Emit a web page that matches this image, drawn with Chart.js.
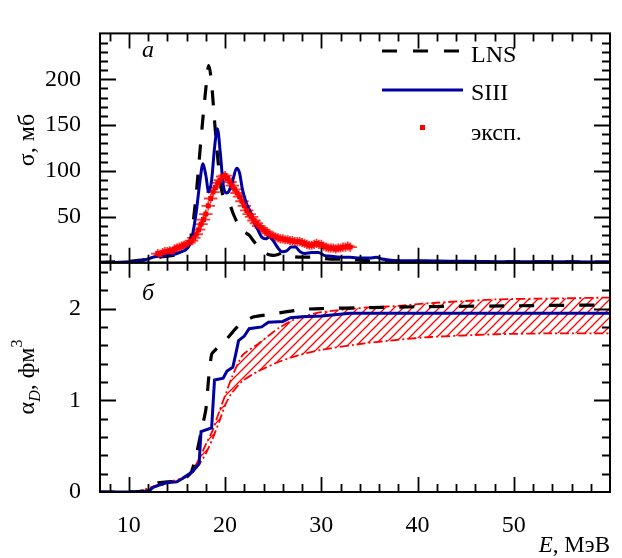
<!DOCTYPE html>
<html>
<head>
<meta charset="utf-8">
<script src="https://cdn.jsdelivr.net/npm/chart.js@4"></script>
<style>
  body { margin: 0; background: #fff; }
  #wrap { width: 622px; height: 558px; }
</style>
</head>
<body>
<div id="wrap"><canvas id="chart" width="622" height="558"></canvas></div>
<script>
// ---- data: panel (а), cross section, mb ----
const lnsE = [7, 9, 10, 11, 12, 12.5, 13, 14, 15, 15.5, 16, 16.5, 17, 17.5, 18, 18.3, 18.6, 18.9, 19.2, 19.5, 19.8, 20.1, 20.5, 20.9, 21.3, 21.7, 22.1, 22.5, 23, 23.5, 24, 24.5, 25, 25.5, 26, 26.5, 27, 28, 29, 30, 31, 32, 33, 34, 35, 37, 40, 45, 50, 60];
const lnsSigma = [0.5, 1, 1.5, 2.5, 4, 5, 6, 7, 9, 11, 14, 30, 75, 135, 190, 215, 195, 155, 118, 88, 72, 68, 63, 52, 43, 36, 33, 30, 23, 17, 12, 9, 8, 9, 11, 9, 7, 6, 6, 5, 4, 4, 3, 3, 2, 2, 1.5, 1, 1, 0.5];

const siiiE = [7, 9, 10, 11, 12, 12.5, 13, 13.5, 14, 15, 15.5, 16, 16.5, 17, 17.4, 17.7, 18, 18.3, 18.6, 18.9, 19.2, 19.5, 19.8, 20.1, 20.4, 20.8, 21.2, 21.5, 21.8, 22.2, 22.6, 23, 23.4, 23.8, 24.2, 24.6, 25, 25.5, 25.9, 26.4, 26.9, 27.3, 27.8, 28.3, 29, 29.7, 30.3, 31, 32, 33, 34, 35, 35.7, 36.3, 37, 38, 40, 45, 50, 55, 60];
const siiiSigma = [0, 0.5, 1, 2, 4, 6, 7, 7, 8, 10, 12, 15, 25, 55, 90, 108, 95, 77, 90, 125, 146, 120, 85, 76, 78, 90, 103, 98, 80, 65, 56, 45, 36, 28, 26, 28, 24, 16, 12, 13, 17, 17, 12, 10, 11, 11, 8, 7, 6, 6, 5, 5, 6, 4, 3, 2, 2, 1.5, 1, 1, 0.8];

const expE = [13, 13.25, 13.5, 13.75, 14, 14.25, 14.5, 14.75, 15, 15.25, 15.5, 15.75, 16, 16.25, 16.5, 16.75, 17, 17.25, 17.5, 17.75, 18, 18.25, 18.5, 18.75, 19, 19.25, 19.5, 19.75, 20, 20.25, 20.5, 20.75, 21, 21.25, 21.5, 21.75, 22, 22.25, 22.5, 22.75, 23, 23.25, 23.5, 23.75, 24, 24.25, 24.5, 24.75, 25, 25.25, 25.5, 25.75, 26, 26.25, 26.5, 26.75, 27, 27.25, 27.5, 27.75, 28, 28.25, 28.5, 28.75, 29, 29.25, 29.5, 29.75, 30, 30.25, 30.5, 30.75, 31, 31.25, 31.5, 31.75, 32, 32.25, 32.5, 32.75, 33];
const expSigma = [10, 9, 11, 12, 12, 13, 12, 15, 16, 17, 18, 19, 20, 22, 24, 27, 31, 36, 42, 47, 53, 62, 70, 77, 82, 87, 90, 94, 95, 92, 88, 84, 80, 76, 72, 67, 62, 57, 53, 50, 46, 43, 40, 38, 36, 34, 32, 30, 29, 28, 27, 26, 26, 25, 25, 24, 24, 23, 23, 23, 22, 21, 20, 19, 19, 20, 21, 20, 20, 18, 17, 16, 16, 16, 15, 16, 16, 17, 17, 18, 17];
const expErrE = 0.7;
const expErrSigma = 5;

// ---- data: panel (б), polarizability, fm^3 ----
const lnsAE = [7, 10, 11.5, 12, 12.5, 13, 14, 15, 15.5, 16, 16.5, 17, 17.5, 18, 18.3, 18.6, 19, 19.5, 20.2, 21, 21.8, 23, 24.9, 28, 30, 35, 40, 50, 60];
const lnsAlpha = [0, 0, 0.01, 0.03, 0.08, 0.1, 0.11, 0.12, 0.13, 0.16, 0.22, 0.4, 0.65, 0.9, 1.25, 1.5, 1.55, 1.6, 1.67, 1.77, 1.85, 1.91, 1.94, 1.99, 2.0, 2.01, 2.02, 2.03, 2.04];

const siiiAE = [7, 11.5, 12.2, 12.5, 13, 13.9, 15, 15.6, 16.6, 17.3, 17.5, 18.6, 18.9, 19.8, 20.2, 20.8, 21.1, 21.4, 22, 22.5, 23.8, 24.5, 26, 26.8, 28, 30, 33, 40, 60];
const siiiAlpha = [0, 0, 0.02, 0.05, 0.07, 0.1, 0.11, 0.15, 0.22, 0.31, 0.66, 0.7, 1.22, 1.24, 1.32, 1.36, 1.5, 1.65, 1.7, 1.78, 1.8, 1.85, 1.86, 1.9, 1.91, 1.92, 1.95, 1.95, 1.95];

const bandE = [10.5, 11.5, 12.5, 13.5, 14.5, 15.5, 16.5, 17.3, 18, 18.7, 19.4, 20.1, 20.7, 21.8, 23.5, 25.6, 27.6, 30, 34.5, 38, 41.4, 48.2, 54, 60];
const bandUpper = [0, 0.02, 0.06, 0.09, 0.12, 0.15, 0.22, 0.36, 0.52, 0.67, 0.88, 1.08, 1.25, 1.49, 1.62, 1.79, 1.9, 1.96, 2.01, 2.03, 2.06, 2.1, 2.11, 2.12];
const bandLower = [0, 0.02, 0.05, 0.08, 0.11, 0.14, 0.2, 0.3, 0.42, 0.58, 0.77, 0.97, 1.08, 1.21, 1.32, 1.42, 1.49, 1.55, 1.62, 1.66, 1.69, 1.72, 1.73, 1.73];

// ticks
const xTicks = [10, 20, 30, 40, 50];
const sigmaTicks = [50, 100, 150, 200];
const alphaTicks = [0, 1, 2];

const FONT = '"Liberation Serif", "Times New Roman", Times, serif';
const NAVY = '#0000a0';
const RED = '#ff0000';

const toPoints = (xs, ys) => xs.map((x, i) => ({ x: x, y: ys[i] }));

// Hatch pattern for the experimental band
function makeHatch() {
    const c = document.createElement('canvas');
    c.width = 9;
    c.height = 9;
    const g = c.getContext('2d');
    g.strokeStyle = RED;
    g.lineWidth = 1.3;
    g.beginPath();
    g.moveTo(-2, 11); g.lineTo(11, -2);
    g.moveTo(-6, 6); g.lineTo(6, -6);
    g.moveTo(3, 15); g.lineTo(15, 3);
    g.stroke();
    return g.createPattern(c, 'repeat');
}

// Error bars for the experimental points
const errorBars = {
    id: 'errorBars',
    beforeDatasetsDraw(chart) {
        const ctx = chart.ctx;
        const x = chart.scales.x, y = chart.scales.yS;
        ctx.save();
        ctx.strokeStyle = 'rgba(255,20,20,0.85)';
        ctx.lineWidth = 1.8;
        ctx.beginPath();
        expE.forEach((e, i) => {
            const px = x.getPixelForValue(e), py = y.getPixelForValue(expSigma[i]);
            ctx.moveTo(x.getPixelForValue(e - expErrE), py);
            ctx.lineTo(x.getPixelForValue(e + expErrE), py);
            ctx.moveTo(px, y.getPixelForValue(expSigma[i] - expErrSigma));
            ctx.lineTo(px, y.getPixelForValue(expSigma[i] + expErrSigma));
        });
        ctx.stroke();
        ctx.restore();
    }
};

// Frame and inner ticks of one panel
function drawPanel(ctx, x, y, yMax, yStep, yMajorEvery) {
    const l = x.left, r = x.right, t = y.top, b = y.bottom;
    ctx.lineWidth = 1.8;
    ctx.beginPath();
    for (let v = 8; v < 60; v += 2) {
        const len = v % 10 === 0 ? 15 : 8;
        const px = Math.round(x.getPixelForValue(v)) + 0.5;
        ctx.moveTo(px, t); ctx.lineTo(px, t + len);
        ctx.moveTo(px, b); ctx.lineTo(px, b - len);
    }
    const n = Math.round(yMax / yStep);
    for (let i = 1; i < n; i++) {
        const len = i % yMajorEvery === 0 ? 16 : 8;
        const py = Math.round(y.getPixelForValue(i * yStep)) + 0.5;
        ctx.moveTo(l, py); ctx.lineTo(l + len, py);
        ctx.moveTo(r, py); ctx.lineTo(r - len, py);
    }
    ctx.stroke();
    ctx.lineWidth = 2;
    ctx.strokeRect(l, t, r - l, b - t);
}

// Legend, panel letters and axis titles
const decorations = {
    id: 'decorations',
    afterDatasetsDraw(chart) {
        const ctx = chart.ctx;
        const x = chart.scales.x;
        ctx.save();
        ctx.strokeStyle = '#000';
        drawPanel(ctx, x, chart.scales.yS, 250, 10, 5);
        drawPanel(ctx, x, chart.scales.yA, 2.5, 0.2, 5);

        // legend
        ctx.lineWidth = 3.2;
        ctx.setLineDash([15, 16]);
        ctx.beginPath(); ctx.moveTo(382, 51); ctx.lineTo(463, 51); ctx.stroke();
        ctx.setLineDash([]);
        ctx.strokeStyle = NAVY;
        ctx.lineWidth = 3;
        ctx.beginPath(); ctx.moveTo(382, 90); ctx.lineTo(463, 90); ctx.stroke();
        ctx.fillStyle = RED;
        ctx.fillRect(420, 125, 5, 5);

        ctx.fillStyle = '#000';
        ctx.textBaseline = 'alphabetic';
        ctx.textAlign = 'left';
        ctx.font = '24px ' + FONT;
        ctx.fillText('LNS', 471, 62);
        ctx.fillText('SIII', 471, 100);
        ctx.fillText('эксп.', 471, 140);

        // panel labels
        ctx.font = 'italic 24px ' + FONT;
        ctx.fillText('а', 142, 57);
        ctx.fillText('б', 142, 300);

        // x axis title
        ctx.font = '23px ' + FONT;
        const rest = ', МэВ';
        const wRest = ctx.measureText(rest).width;
        ctx.fillText(rest, 610 - wRest, 552);
        ctx.font = 'italic 23px ' + FONT;
        const wE = ctx.measureText('E').width;
        ctx.fillText('E', 610 - wRest - wE, 552);

        // y axis titles (rotated)
        ctx.save();
        ctx.translate(34, 140);
        ctx.rotate(-Math.PI / 2);
        ctx.font = '24px ' + FONT;
        ctx.textAlign = 'center';
        ctx.fillText('σ, мб', 0, 0);
        ctx.restore();

        ctx.save();
        ctx.translate(34, 377);
        ctx.rotate(-Math.PI / 2);
        const parts = [
            { t: 'α', f: '24px', dy: 0 },
            { t: 'D', f: 'italic 16px', dy: 6 },
            { t: ', фм', f: '24px', dy: 0 },
            { t: '3', f: '16px', dy: -12 }
        ];
        let total = 0;
        parts.forEach(p => { ctx.font = p.f + ' ' + FONT; p.w = ctx.measureText(p.t).width; total += p.w; });
        let cx = -total / 2;
        parts.forEach(p => {
            ctx.font = p.f + ' ' + FONT;
            ctx.fillText(p.t, cx, p.dy);
            cx += p.w;
        });
        ctx.restore();
        ctx.restore();
    }
};

const tickFont = { family: FONT, size: 24 };
const noGrid = { display: false, drawTicks: false, tickLength: 0 };

function init() {
    new Chart(document.getElementById('chart').getContext('2d'), {
        type: 'line',
        data: {
            datasets: [
                {
                    label: 'эксп.', type: 'scatter', yAxisID: 'yS',
                    data: toPoints(expE, expSigma),
                    pointStyle: 'rect', pointRadius: 3.5, backgroundColor: RED, borderColor: RED, borderWidth: 0
                },
                {
                    label: 'SIII', yAxisID: 'yS', data: toPoints(siiiE, siiiSigma),
                    borderColor: NAVY, borderWidth: 3, pointRadius: 0, cubicInterpolationMode: 'monotone', fill: false
                },
                {
                    label: 'LNS', yAxisID: 'yS', data: toPoints(lnsE, lnsSigma),
                    borderColor: '#000', borderWidth: 3.2, borderDash: [15, 15], pointRadius: 0, cubicInterpolationMode: 'monotone', fill: false
                },
                {
                    label: 'SIII α', yAxisID: 'yA', data: toPoints(siiiAE, siiiAlpha),
                    borderColor: NAVY, borderWidth: 3, pointRadius: 0, tension: 0, fill: false
                },
                {
                    label: 'LNS α', yAxisID: 'yA', data: toPoints(lnsAE, lnsAlpha),
                    borderColor: '#000', borderWidth: 3.2, borderDash: [15, 15], pointRadius: 0, tension: 0.2, fill: false
                },
                {
                    label: 'band low', yAxisID: 'yA', data: toPoints(bandE, bandLower),
                    borderColor: RED, borderWidth: 1.8, borderDash: [9, 3, 2, 3], pointRadius: 0, tension: 0.2, fill: false
                },
                {
                    label: 'band high', yAxisID: 'yA', data: toPoints(bandE, bandUpper),
                    borderColor: RED, borderWidth: 1.8, borderDash: [9, 3, 2, 3], pointRadius: 0, tension: 0.2,
                    fill: '-1', backgroundColor: makeHatch()
                }
            ]
        },
        options: {
            responsive: false,
            animation: false,
            layout: { padding: { left: 0, right: 12, top: 5, bottom: 0 } },
            plugins: { legend: { display: false }, tooltip: { enabled: false } },
            scales: {
                x: {
                    type: 'linear', min: 7, max: 60,
                    afterBuildTicks: s => { s.ticks = xTicks.map(v => ({ value: v })); },
                    afterFit: s => { s.height = 66; },
                    grid: noGrid, border: { display: false },
                    ticks: { font: tickFont, color: '#000', padding: 19, maxRotation: 0 }
                },
                // bottom panel is listed first: stacked left axes are laid out in reverse order
                yA: {
                    type: 'linear', position: 'left', stack: 'panels', stackWeight: 1,
                    min: 0, max: 2.5,
                    afterBuildTicks: s => { s.ticks = alphaTicks.map(v => ({ value: v })); },
                    afterFit: s => { s.width = 100; },
                    grid: noGrid, border: { display: false },
                    ticks: { font: tickFont, color: '#000', padding: 19 }
                },
                yS: {
                    type: 'linear', position: 'left', stack: 'panels', stackWeight: 1,
                    min: 0, max: 250,
                    afterBuildTicks: s => { s.ticks = sigmaTicks.map(v => ({ value: v })); },
                    afterFit: s => { s.width = 100; },
                    grid: noGrid, border: { display: false },
                    ticks: { font: tickFont, color: '#000', padding: 19 }
                }
            }
        },
        plugins: [errorBars, decorations]
    });
}

document.fonts.load('22px "Liberation Serif"').then(init, init);
</script>
</body>
</html>
